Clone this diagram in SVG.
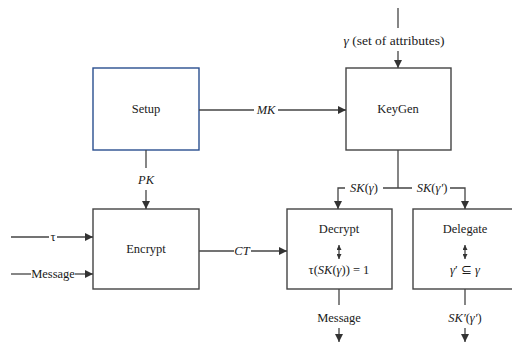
<svg xmlns="http://www.w3.org/2000/svg" width="512" height="342" viewBox="0 0 512 342">
  <defs>
    <marker id="arr" viewBox="0 0 10 10" refX="10" refY="5" markerWidth="8" markerHeight="8" markerUnits="userSpaceOnUse" orient="auto">
      <path d="M0,0 L10,5 L0,10 z" fill="#333"/>
    </marker>
    <marker id="tip" viewBox="0 0 10 10" refX="10" refY="5" markerWidth="5" markerHeight="5" markerUnits="userSpaceOnUse" orient="auto-start-reverse">
      <path d="M0,0 L10,5 L0,10 z" fill="#333"/>
    </marker>
  </defs>
  <style>
    .box { fill: #fff; stroke: #444; stroke-width: 1.4; }
    .blue { stroke: #2a4f8f; }
    .ln { fill: none; stroke: #444; stroke-width: 1.3; }
    text { font-family: "Liberation Serif", "Times New Roman", serif; font-size: 12.5px; fill: #1a1a1a; text-anchor: middle; }
    .it { font-style: italic; }
    .sm { font-size: 13.5px; }
  </style>
  <rect width="512" height="342" fill="#fff"/>

  <g id="setup">
    <rect class="box blue" x="93" y="68" width="106" height="82"/>
    <text x="146" y="113">Setup</text>
  </g>
  <g id="keygen">
    <rect class="box" x="346" y="68" width="105" height="82"/>
    <text x="398" y="113">KeyGen</text>
  </g>
  <g id="encrypt">
    <rect class="box" x="93" y="209" width="106" height="80"/>
    <text x="146" y="253">Encrypt</text>
  </g>
  <g id="decrypt">
    <rect class="box" x="287" y="209" width="105" height="80"/>
    <text x="339" y="233">Decrypt</text>
    <path class="ln" d="M339,245 L339,259" stroke-width="1" marker-start="url(#tip)" marker-end="url(#tip)"/>
    <text x="339" y="274">τ(<tspan class="it">SK</tspan>(<tspan class="it">γ</tspan>)) = 1</text>
  </g>
  <g id="delegate">
    <rect class="box" x="413" y="209" width="110" height="80"/>
    <text x="465" y="233">Delegate</text>
    <path class="ln" d="M465,245 L465,259" stroke-width="1" marker-start="url(#tip)" marker-end="url(#tip)"/>
    <text x="465" y="274"><tspan class="it">γ</tspan>′ ⊆ <tspan class="it">γ</tspan></text>
  </g>

  <g id="connectors">
    <!-- attribute input into KeyGen -->
    <path class="ln" d="M398,8 L398,28"/>
    <text class="sm" x="394" y="45"><tspan class="it">γ</tspan> (set of attributes)</text>
    <path class="ln" d="M398,51 L398,68" marker-end="url(#arr)"/>
    <!-- MK -->
    <path class="ln" d="M199,110 L254,110"/>
    <text class="it" x="266" y="114">MK</text>
    <path class="ln" d="M278,110 L346,110" marker-end="url(#arr)"/>
    <!-- PK -->
    <path class="ln" d="M146,150 L146,168"/>
    <text class="it" x="146" y="184">PK</text>
    <path class="ln" d="M146,190 L146,209" marker-end="url(#arr)"/>
    <!-- tau -->
    <path class="ln" d="M11,237 L49,237"/>
    <text x="53" y="241">τ</text>
    <path class="ln" d="M57,237 L93,237" marker-end="url(#arr)"/>
    <!-- Message in -->
    <path class="ln" d="M11,274 L31,274"/>
    <text x="53" y="278">Message</text>
    <path class="ln" d="M75,274 L93,274" marker-end="url(#arr)"/>
    <!-- CT -->
    <path class="ln" d="M199,251 L234,251"/>
    <text class="it" x="242" y="255">CT</text>
    <path class="ln" d="M251,251 L287,251" marker-end="url(#arr)"/>
    <!-- KeyGen split -->
    <path class="ln" d="M398,150 L398,188 M383,188 L412,188"/>
    <path class="ln" d="M345,188 L338,188 L338,209" marker-end="url(#arr)"/>
    <text class="it" x="364" y="192">SK<tspan font-style="normal">(</tspan>γ<tspan font-style="normal">)</tspan></text>
    <text class="it" x="432" y="192">SK<tspan font-style="normal">(</tspan>γ′<tspan font-style="normal">)</tspan></text>
    <path class="ln" d="M450,188 L465,188 L465,209" marker-end="url(#arr)"/>
    <!-- outputs -->
    <path class="ln" d="M339,289 L339,305"/>
    <text x="339" y="322">Message</text>
    <path class="ln" d="M339,328 L339,342" marker-end="url(#arr)"/>
    <path class="ln" d="M465,289 L465,305"/>
    <text class="it" x="465" y="322">SK′<tspan font-style="normal">(</tspan>γ′<tspan font-style="normal">)</tspan></text>
    <path class="ln" d="M465,328 L465,342" marker-end="url(#arr)"/>
  </g>
</svg>
